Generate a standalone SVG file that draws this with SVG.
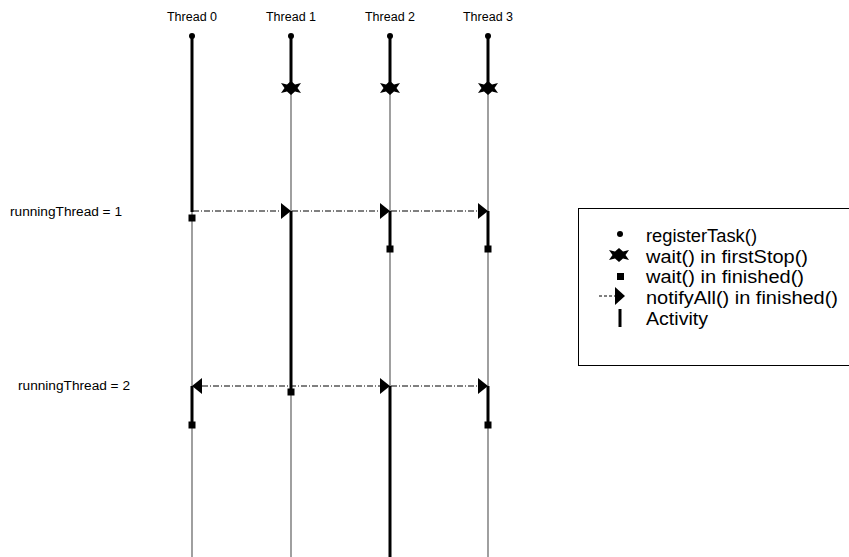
<svg xmlns="http://www.w3.org/2000/svg" width="849" height="557" viewBox="0 0 849 557">
<defs>
<style>
.lbl{font-family:"Liberation Sans",Arial,sans-serif;font-size:12.5px;fill:#000}
.leg{font-family:"Liberation Sans",Arial,sans-serif;font-size:17.5px;fill:#000}
.thin{stroke:#606060;stroke-width:1.2;fill:none}
.thick{stroke:#000;stroke-width:3;fill:none}
.dash{stroke:#000;stroke-width:1;stroke-dasharray:6,2,1,2;fill:none}
</style>
<polygon id="star" points="-10,-5 -4,-3.5 0,-7 4,-3.5 10,-5 6.5,0 10,5 4,3.5 0,7 -4,3.5 -10,5 -6.5,0" fill="#000"/>
<rect id="sq" x="-3.5" y="-3.5" width="7" height="7" fill="#000"/>
<polygon id="arrR" points="-10,-8 0,0 -10,8" fill="#000"/>
<polygon id="arrL" points="10,-8 0,0 10,8" fill="#000"/>
</defs>
<rect width="849" height="557" fill="#fff"/>

<g id="labels">
<text class="lbl" x="192" y="21" text-anchor="middle">Thread 0</text>
<text class="lbl" x="291" y="21" text-anchor="middle">Thread 1</text>
<text class="lbl" x="390" y="21" text-anchor="middle">Thread 2</text>
<text class="lbl" x="488" y="21" text-anchor="middle">Thread 3</text>
<text class="lbl" x="10" y="216" textLength="112" lengthAdjust="spacingAndGlyphs">runningThread = 1</text>
<text class="lbl" x="18" y="390" textLength="112" lengthAdjust="spacingAndGlyphs">runningThread = 2</text>
</g>

<g id="thread0">
<line class="thick" x1="192" y1="36" x2="192" y2="212"/>
<line class="thin" x1="192" y1="212" x2="192" y2="386"/>
<line class="thick" x1="192" y1="386" x2="192" y2="424"/>
<line class="thin" x1="192" y1="424" x2="192" y2="557"/>
<circle cx="192" cy="36" r="3" fill="#000"/>
<use href="#sq" x="192" y="218"/>
<use href="#sq" x="192" y="425"/>
</g>

<g id="thread1">
<line class="thick" x1="291" y1="36" x2="291" y2="88"/>
<line class="thin" x1="291" y1="88" x2="291" y2="211"/>
<line class="thick" x1="291" y1="211" x2="291" y2="390"/>
<line class="thin" x1="291" y1="390" x2="291" y2="557"/>
<circle cx="291" cy="36" r="3" fill="#000"/>
<use href="#star" x="291" y="88"/>
<use href="#sq" x="291" y="392"/>
</g>

<g id="thread2">
<line class="thick" x1="390" y1="36" x2="390" y2="88"/>
<line class="thin" x1="390" y1="88" x2="390" y2="211"/>
<line class="thick" x1="390" y1="211" x2="390" y2="248"/>
<line class="thin" x1="390" y1="248" x2="390" y2="386"/>
<line class="thick" x1="390" y1="386" x2="390" y2="557"/>
<circle cx="390" cy="36" r="3" fill="#000"/>
<use href="#star" x="390" y="88"/>
<use href="#sq" x="390" y="249"/>
</g>

<g id="thread3">
<line class="thick" x1="488" y1="36" x2="488" y2="88"/>
<line class="thin" x1="488" y1="88" x2="488" y2="211"/>
<line class="thick" x1="488" y1="211" x2="488" y2="248"/>
<line class="thin" x1="488" y1="248" x2="488" y2="386"/>
<line class="thick" x1="488" y1="386" x2="488" y2="424"/>
<line class="thin" x1="488" y1="424" x2="488" y2="557"/>
<circle cx="488" cy="36" r="3" fill="#000"/>
<use href="#star" x="488" y="88"/>
<use href="#sq" x="488" y="249"/>
<use href="#sq" x="488" y="425"/>
</g>

<g id="connectors">
<line class="dash" x1="193" y1="211" x2="281" y2="211"/>
<use href="#arrR" x="291" y="211"/>
<line class="dash" x1="292" y1="211" x2="380" y2="211"/>
<use href="#arrR" x="390" y="211"/>
<line class="dash" x1="391" y1="211" x2="478" y2="211"/>
<use href="#arrR" x="488" y="211"/>
<use href="#arrL" x="192" y="386"/>
<line class="dash" x1="202" y1="386" x2="380" y2="386"/>
<use href="#arrR" x="390" y="386"/>
<line class="dash" x1="391" y1="386" x2="478" y2="386"/>
<use href="#arrR" x="488" y="386"/>
</g>

<g id="legend">
<rect x="578.5" y="208.5" width="280" height="157" fill="none" stroke="#000" stroke-width="1"/>
<circle cx="620" cy="234" r="3" fill="#000"/>
<use href="#star" x="619" y="255"/>
<rect x="617" y="273" width="7" height="7" fill="#000"/>
<line x1="599" y1="296" x2="615" y2="296" stroke="#000" stroke-width="1" stroke-dasharray="3,2"/>
<polygon points="615,287 625,296 615,305" fill="#000"/>
<line x1="620" y1="309" x2="620" y2="327" stroke="#000" stroke-width="3"/>
<text class="leg" x="646" y="242" textLength="111" lengthAdjust="spacingAndGlyphs">registerTask()</text>
<text class="leg" x="646" y="263" textLength="162" lengthAdjust="spacingAndGlyphs">wait() in firstStop()</text>
<text class="leg" x="646" y="283" textLength="158" lengthAdjust="spacingAndGlyphs">wait() in finished()</text>
<text class="leg" x="646" y="304" textLength="192" lengthAdjust="spacingAndGlyphs">notifyAll() in finished()</text>
<text class="leg" x="646" y="325" textLength="62" lengthAdjust="spacingAndGlyphs">Activity</text>
</g>
</svg>
